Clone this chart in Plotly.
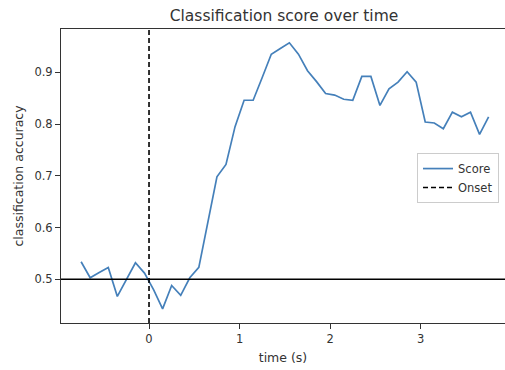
import plotly.graph_objects as go

times = [-0.75, -0.65, -0.55, -0.45, -0.35, -0.25, -0.15, -0.05, 0.05, 0.15,
         0.25, 0.35, 0.45, 0.55, 0.65, 0.75, 0.85, 0.95, 1.05, 1.15,
         1.25, 1.35, 1.45, 1.55, 1.65, 1.75, 1.85, 1.95, 2.05, 2.15,
         2.25, 2.35, 2.45, 2.55, 2.65, 2.75, 2.85, 2.95, 3.05, 3.15,
         3.25, 3.35, 3.45, 3.55, 3.65, 3.75]
scores = [0.534, 0.503, 0.513, 0.523, 0.467, 0.500, 0.532, 0.512, 0.480, 0.443,
          0.488, 0.469, 0.503, 0.523, 0.614, 0.698, 0.722, 0.795, 0.846, 0.846,
          0.890, 0.935, 0.946, 0.957, 0.935, 0.903, 0.882, 0.859, 0.856, 0.848,
          0.846, 0.892, 0.892, 0.836, 0.868, 0.881, 0.901, 0.881, 0.804, 0.802,
          0.791, 0.823, 0.814, 0.823, 0.780, 0.814]
onset_time = 0.0
chance_level = 0.5
x_ticks = [0, 1, 2, 3]
y_ticks = [0.5, 0.6, 0.7, 0.8, 0.9]
x_range = [-0.972, 3.931]
y_range = [0.4156, 0.9837]

font = "DejaVu Sans, Arial, sans-serif"
text_color = "#333333"

fig = go.Figure()
fig.add_trace(go.Scatter(x=times, y=scores, mode="lines", name="Score",
                         line=dict(color="#4580ba", width=1.7)))
fig.add_trace(go.Scatter(x=[onset_time, onset_time], y=y_range, mode="lines",
                         name="Onset", line=dict(color="black", width=1.6, dash="5px,3px")))
fig.add_hline(y=chance_level, line=dict(color="black", width=1.4))

fig.update_layout(
    width=505, height=370,
    margin=dict(l=61, r=0, t=29, b=47),
    paper_bgcolor="white", plot_bgcolor="white",
    font=dict(family=font, size=11.5, color=text_color),
    title=dict(text="Classification score over time", x=(61 + 507) / 2 / 505,
               xanchor="center", y=1 - 16 / 370, yanchor="middle",
               font=dict(size=15.5, color=text_color)),
    legend=dict(x=0.9865, xanchor="right", y=0.578, yanchor="top",
                bgcolor="white", bordercolor="#cccccc", borderwidth=1,
                font=dict(size=11.5, color=text_color), tracegroupgap=0),
    xaxis=dict(range=x_range, tickvals=x_ticks, ticks="outside", ticklen=5,
               tickcolor=text_color, showline=True, linecolor=text_color, linewidth=1,
               mirror=True, showgrid=False, zeroline=False,
               tickfont=dict(size=11.5),
               title=dict(text="time (s)", standoff=8, font=dict(size=12.5))),
    yaxis=dict(range=y_range, tickvals=y_ticks, ticktext=[str(v) for v in y_ticks],
               ticks="outside", ticklen=5,
               tickcolor=text_color, showline=True, linecolor=text_color, linewidth=1,
               mirror=True, showgrid=False, zeroline=False,
               tickfont=dict(size=11.5),
               title=dict(text="classification accuracy", standoff=8, font=dict(size=12.5))),
)

fig.write_html("out.html")
